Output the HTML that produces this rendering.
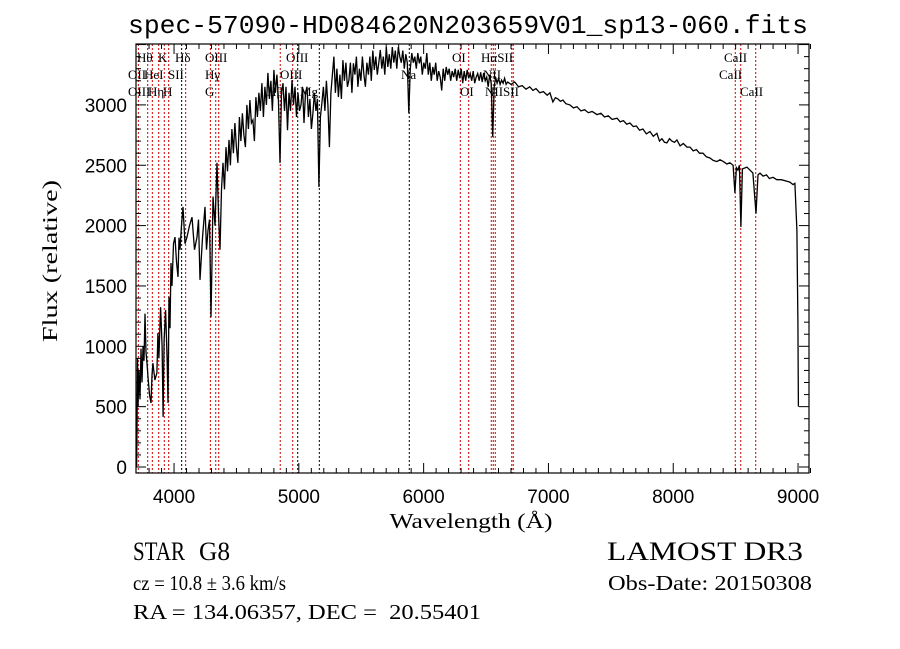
<!DOCTYPE html>
<html><head><meta charset="utf-8"><style>
html,body{margin:0;padding:0;background:#fff;width:900px;height:649px;overflow:hidden}
svg{display:block}
text{font-family:"Liberation Serif",serif;fill:#000;white-space:pre}
</style></head><body>
<svg id="chart" width="900" height="649" viewBox="0 0 900 649" xmlns="http://www.w3.org/2000/svg">
<rect x="0" y="0" width="900" height="649" fill="#fff"/>
<text x="468" y="33" text-anchor="middle" font-size="26" textLength="680" lengthAdjust="spacingAndGlyphs" style="font-family:'Liberation Mono',monospace">spec-57090-HD084620N203659V01_sp13-060.fits</text>
<g id="lines"></g>
<g id="labels"></g>
<path id="spec" fill="none" stroke="#000" stroke-width="1.3"/>
<rect x="136" y="44" width="673" height="429" fill="none" stroke="#000" stroke-width="1.2"/>
<g id="ticks"></g>
<text x="471" y="528" text-anchor="middle" font-size="21" textLength="163" lengthAdjust="spacingAndGlyphs">Wavelength (Å)</text>
<text transform="translate(57,261) rotate(-90)" text-anchor="middle" font-size="21" textLength="162" lengthAdjust="spacingAndGlyphs">Flux (relative)</text>
<text x="133" y="560" font-size="26" textLength="52" lengthAdjust="spacingAndGlyphs">STAR</text>
<text x="199" y="560" font-size="26" textLength="31" lengthAdjust="spacingAndGlyphs">G8</text>
<text x="607" y="560" font-size="26" textLength="196" lengthAdjust="spacingAndGlyphs">LAMOST DR3</text>
<text x="133" y="590" font-size="21" textLength="153" lengthAdjust="spacingAndGlyphs">cz = 10.8 ± 3.6 km/s</text>
<text x="608" y="590" font-size="21" textLength="204" lengthAdjust="spacingAndGlyphs">Obs-Date: 20150308</text>
<text x="133" y="619" font-size="21" textLength="348" lengthAdjust="spacingAndGlyphs" xml:space="preserve">RA = 134.06357, DEC =  20.55401</text>
</svg>
<script>
const waves=[3700,3703,3707,3711,3719,3727,3735,3743,3751,3759,3767,3775,3783,3791,3803,3815,3823,3831,3847,3863,3871,3879,3892,3904,3912,3920,3932,3944,3952,3960,3968,3976,3984,3996,4008,4020,4032,4040,4048,4060,4072,4088,4104,4124,4144,4164,4184,4196,4208,4228,4248,4260,4272,4284,4296,4304,4312,4328,4344,4356,4368,4380,
4392,4404,4416,4428,4440,4452,4464,4476,4488,4500,4512,4524,4536,4548,4560,4572,4584,4596,4608,4620,4632,4644,4656,4668,4680,4692,4704,4716,4728,4740,4752,4764,4776,4788,4800,4812,4824,4836,4849,4861,4873,4885,4897,4909,4921,4933,4945,4957,4969,4981,4993,5005,5017,5029,5041,5053,5065,5077,5089,5101,5113,5125,5137,5149,5161,5173,5185,5197,5209,5221,5233,5245,5257,5269,5281,5293,5305,5317,5329,5341,5353,5365,5377,5389,5401,5413,5425,5437,5449,5461,5473,5485,5497,5509,5521,5533,5545,5557,5569,5581,5593,5605,5617,5629,5641,5653,5665,5677,5689,5701,5713,5725,5737,5749,5761,5773,5785,5797,5809,5821,5833,5845,5857,5869,5881,5893,5905,5917,5929,5941,5953,5965,5977,5989,6001,6013,6025,6037,6049,6061,6073,6085,6097,6109,6121,6133,6145,6157,6169,6181,6193,6205,6217,6229,6241,6253,6265,6277,6289,6301,6313,6325,6337,6349,6361,6373,6385,6397,6409,6421,6433,6445,6457,6469,6481,6493,6505,6517,6529,6541,6553,6565,6577,6589,6601,6613,6625,6637,6649,6661,6673,
6700,6730,6760,6790,6820,6850,6876,6900,6930,6960,6990,7012,7036,7056,7076,7096,7116,7140,7172,7200,7229,7260,7290,7320,7350,7389,7420,7450,7480,7510,7549,7575,7601,7627,7653,7680,7705,7730,7757,7785,7813,7840,7869,7890,7909,7930,7949,7970,7989,8010,8029,8055,8081,8110,8134,8160,8186,8210,8238,8266,8294,8320,8350,8375,8402,8430,8454,
8480,8494,8506,8518,8530,8542,8554,8590,8614,8638,8663,8679,8695,8720,8747,8770,8799,8830,8867,8900,8935,8960,8975,8991,8999,9003];
const flux=[0,300,900,500,800,560,980,700,1000,880,1270,950,860,745,600,530,760,860,720,780,1110,900,1325,1000,415,1050,1300,900,530,1410,1150,1690,1500,1850,1905,1700,1575,1900,1800,2000,2155,1850,1905,2000,2070,1800,1905,2050,1550,1900,2155,1800,1960,2050,1240,1700,2240,2000,2520,2100,1800,2300,
2520,2300,2650,2450,2710,2500,2800,2600,2850,2650,2520,2900,2700,2930,2750,2650,3000,2800,3040,2850,2875,2700,3065,2900,3100,2950,3180,2900,3150,3000,3265,3050,3200,2950,3290,3100,3250,3050,2520,3100,3180,2950,3150,2790,3100,2950,3205,3000,3150,2900,3100,2950,3000,3150,2850,3100,3150,2900,3050,2800,2930,3100,2950,3050,2320,2900,3015,3150,2950,3200,3000,2650,3100,3250,3400,3100,3300,3065,3250,3050,3370,3200,3350,3150,3205,3350,3100,3345,3250,3400,3150,3300,3200,3400,3250,3150,3350,3250,3400,3200,3450,3290,3400,3250,3350,3455,3300,3400,3250,3480,3315,3420,3300,3480,3350,3450,3300,3480,3400,3350,3450,3300,3420,3350,2930,3300,3430,3350,3400,3300,3430,3345,3400,3250,3350,3300,3430,3250,3350,3200,3315,3250,3350,3200,3280,3230,3120,3300,3200,3315,3250,3300,3200,3280,3230,3300,3200,3290,3220,3300,3180,3280,3200,3290,3220,3260,3200,3280,3180,3230,3260,3200,3270,3190,3265,3200,3230,3150,3250,3180,2735,3150,3230,3180,3220,3170,3205,3180,3220,3170,3190,
3170,3190,3150,3160,3130,3150,3120,3135,3100,3110,3080,3100,3025,3060,3050,3030,3040,3010,3000,2975,2985,2950,2960,2935,2945,2920,2930,2900,2910,2880,2890,2860,2870,2840,2850,2820,2825,2790,2800,2760,2780,2740,2765,2700,2720,2690,2685,2720,2700,2690,2710,2660,2680,2650,2650,2620,2630,2600,2600,2570,2560,2540,2530,2545,2530,2510,2520,
2500,2270,2480,2460,2500,1990,2470,2485,2460,2435,2100,2420,2435,2410,2420,2390,2400,2380,2380,2370,2360,2340,2350,1960,1200,500];
const lineWaves=[3714,3789,3826,3877,3922,3957,4061,4093,4291,4334,4358,4851,4951,4991,5164,5885,6294,6361,6542,6558,6574,6706,6718,8497,8541,8661];
const lineColors=["#c00","#c00","#c00","#c00","#c00","#c00","#000","#c00","#c00","#c00","#c00","#c00","#c00","#000","#000","#000","#c00","#c00","#c00","#c00","#c00","#c00","#c00","#c00","#c00","#c00"];
const labelText=["Hθ","K","Hδ","OIII","OIII","OI","HαSII","CaII","OII","HeI","SII","Hγ","OIII","Na","NII","CaII","OIII","Hη","H","G","Hβ","Mg","OI","NIISII","CaII"];
const labelX=[137,158,175,205,286,452,481,724,128,144,168,205,280,401,483,719,128,148,163,205,267,300,460,485,740];
const labelRow=[0,0,0,0,0,0,0,0,1,1,1,1,1,1,1,1,2,2,2,2,2,2,2,2,2];
const xTicks=[4000,5000,6000,7000,8000,9000];
const yTicks=[0,500,1000,1500,2000,2500,3000];
const X0=136,X1=809,Y0=44,Y1=473;
function xs(w){return 136.6+(w-3700)*0.1248;}
function ys(f){return 467-f*0.1207;}
const NS="http://www.w3.org/2000/svg";
function mk(tag,parent,attrs){const e=document.createElementNS(NS,tag);for(const k in attrs)e.setAttribute(k,attrs[k]);parent.appendChild(e);return e;}
let d="";
for(let i=0;i<waves.length;i++){d+=(i?"L":"M")+xs(waves[i]).toFixed(1)+","+Math.max(Y0,Math.min(Y1,ys(flux[i]))).toFixed(1);}
document.getElementById("spec").setAttribute("d",d);
const lg=document.getElementById("lines");
lineWaves.forEach((w,i)=>{
 const l=mk("line",lg,{x1:xs(w),x2:xs(w),y1:Y0,y2:Y1,stroke:lineColors[i],"stroke-width":1,"stroke-dasharray":"2,2"});
 
 
});
const lb=document.getElementById("labels");
labelText.forEach((t,i)=>{
 const e=mk("text",lb,{x:labelX[i],y:62+labelRow[i]*17,"font-size":13});
 e.textContent=t;
 
 
});
const tg=document.getElementById("ticks");
for(let w=3800;w<=9100;w+=100){
 const major=w%1000===0;const L=major?10:5;const x=xs(w);
 mk("line",tg,{x1:x,x2:x,y1:Y1,y2:Y1-L,stroke:"#000","stroke-width":1});
 mk("line",tg,{x1:x,x2:x,y1:Y0,y2:Y0+L,stroke:"#000","stroke-width":1});
}
xTicks.forEach(w=>{
 const t=mk("text",tg,{x:xs(w),y:503,"text-anchor":"middle","font-size":19,style:"font-family:'Liberation Sans',sans-serif"});
 t.textContent=w;
 
 
});
for(let f=0;f<=3500;f+=100){
 const major=f%500===0;const L=major?10:5;const y=ys(f);
 if(y<Y0)continue;
 mk("line",tg,{x1:X0,x2:X0+L,y1:y,y2:y,stroke:"#000","stroke-width":1});
 mk("line",tg,{x1:X1,x2:X1-L,y1:y,y2:y,stroke:"#000","stroke-width":1});
}
yTicks.forEach(f=>{
 const t=mk("text",tg,{x:127,y:ys(f)+7,"text-anchor":"end","font-size":19,style:"font-family:'Liberation Sans',sans-serif"});
 t.textContent=f;
 
 
});
</script>
</body></html>
